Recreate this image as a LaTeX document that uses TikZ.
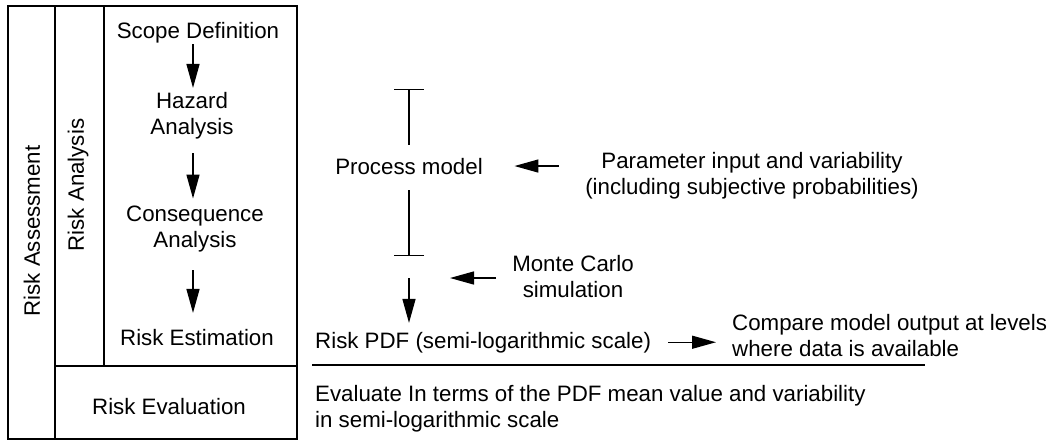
\documentclass[tikz,border=0pt]{standalone}
\usepackage{fontspec}
\setmainfont{Liberation Sans}
\usetikzlibrary{arrows.meta}
\begin{document}
\begin{tikzpicture}[x=1pt,y=-1pt,
  txt/.style={font=\fontsize{22.3}{26.5}\selectfont, inner sep=0pt, align=center, anchor=base},
  ltxt/.style={txt, align=left, anchor=base west},
  frame/.style={line width=2pt},
  rule/.style={line width=2pt},
  arr/.style={line width=1.4pt, -{Triangle[length=24pt,width=13pt]}},
  tee/.style={line width=1.4pt, -{Bar[width=30pt]}}]
\useasboundingbox (0,0) rectangle (1055,440);

% table frame on the left
\draw[frame] (8,6) rectangle (297,438.5);
\draw[frame] (55,6) -- (55,438.5);
\draw[frame] (104,6) -- (104,366);
\draw[frame] (55,366) -- (297,366);

% column headings
\node[txt, rotate=90, anchor=center] (assess) at (32,231) {Risk Assessment};
\node[txt, rotate=90, anchor=center] (analysis) at (78,185) {Risk Analysis};

% analysis steps (base of a two-line node is its last line)
\coordinate (spine) at (193,0);
\node[txt] (scope) at (198,38) {Scope Definition};
\node[txt] (hazard) at (192,134.5) {Hazard\\Analysis};
\node[txt] (conseq) at (195,247.5) {Consequence\\Analysis};
\node[txt] (estim) at (197,345) {Risk Estimation};
\node[txt] (evalbox) at (169,414) {Risk Evaluation};

\draw[arr, shorten <=1.3pt, shorten >=3.7pt] (scope.south -| spine) -- (hazard.north -| spine);
\draw[arr, shorten <=14pt, shorten >=6.7pt] (hazard.south -| spine) -- (conseq.north -| spine);
\draw[arr, shorten <=18pt, shorten >=15.7pt] (conseq.south -| spine) -- (estim.north -| spine);

% model chain on the right
\node[txt] (process) at (409,174) {Process model};
\node[txt] (param) at (752,194.5) {Parameter input and variability\\(including subjective probabilities)};
\node[txt] (monte) at (573,297.5) {Monte Carlo\\simulation};
\node[ltxt] (pdf) at (315,348) {Risk PDF (semi-logarithmic scale)};
\node[ltxt] (compare) at (732,356.5) {Compare model output at levels\\where data is available};
\node[ltxt] (evaltext) at (315,427.5) {Evaluate In terms of the PDF mean value and variability\\in semi-logarithmic scale};

\coordinate (ptop) at (409,89);
\coordinate (pbot) at (409,256);
\coordinate (mcjoin) at (409,278);

\draw[tee, shorten <=13pt] (process.north -| ptop) -- (ptop);
\draw[tee, shorten <=16pt] (process.south -| pbot) -- (pbot);
\draw[arr, shorten <=26.5pt, shorten >=31.5pt] (param.west |- process.east) -- (process.east);
\draw[arr, shorten <=16pt, shorten >=41pt] (monte.west |- mcjoin) -- (mcjoin);
\draw[arr, shorten >=8.7pt] (mcjoin) -- (pdf.north -| mcjoin);
\draw[arr, shorten <=17pt, shorten >=16pt] (pdf.east) -- (pdf.east -| compare.west);

% separator between estimation and evaluation
\coordinate (ruleL) at (312,365);
\coordinate (ruleR) at (925,365);
\draw[rule] (ruleL) -- (ruleR);
\end{tikzpicture}
\end{document}
